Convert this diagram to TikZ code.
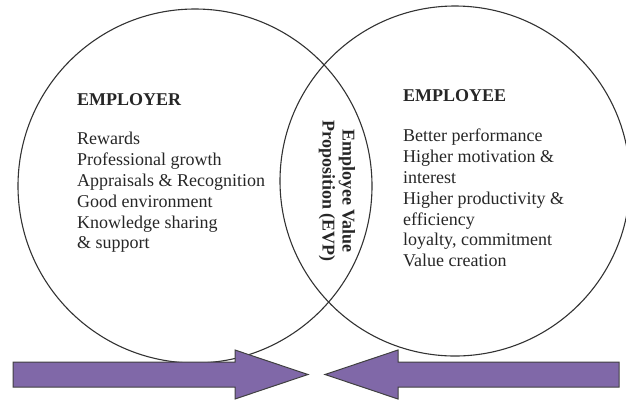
\documentclass[tikz,border=0pt]{standalone}
\usepackage{fontspec}
\setmainfont{Liberation Serif}
\definecolor{evppurple}{RGB}{128,104,168}

\tikzset{venn/.style = {circle, draw=black!80, line width=1.1pt, inner sep=0pt},
         liste/.style = {align=left, inner sep=0pt, anchor=north west,
                         font=\fontsize{18}{20.8}\selectfont, text=black!85},
         evp/.style = {align=center, inner sep=0pt, rotate=-90,
                       font=\fontsize{18}{20}\selectfont\bfseries, text=black!85},
         evparrow/.style = {fill=evppurple, draw=black!75, line width=1pt, line join=miter}
        }

\begin{document}
\begin{tikzpicture}[x=1pt,y=-1pt]
  \useasboundingbox (0,0) rectangle (626,400);
  \clip (0,0) rectangle (626,400);
  % the two circles
  \node[venn, minimum size=354pt] (employercircle) at (195,186) {};
  \node[venn, minimum size=350pt] (employeecircle) at (455,181) {};
  % texts
  \node[liste] (employer) at (77,93) {\textbf{EMPLOYER}\\[19pt]
     Rewards\\
     Professional growth\\
     Appraisals \& Recognition\\
     Good environment\\
     Knowledge sharing\\
     \& support};
  \node[liste] (employee) at (403,89) {\textbf{EMPLOYEE}\\[20pt]
     Better performance\\
     Higher motivation \&\\
     interest\\
     Higher productivity \&\\
     efficiency\\
     loyalty, commitment\\
     Value creation};
  \node[evp] (evp) at (337,191) {Employee Value\\Proposition (EVP)};
  % arrows
  \draw[evparrow] (13,362) -- (235,362) -- (235,350) -- (308,374.5)
                  -- (235,399) -- (235,387) -- (13,387) -- cycle;
  \draw[evparrow] (619,362) -- (398,362) -- (398,350) -- (325,374.5)
                  -- (398,399) -- (398,387) -- (619,387) -- cycle;
\end{tikzpicture}
\end{document}
